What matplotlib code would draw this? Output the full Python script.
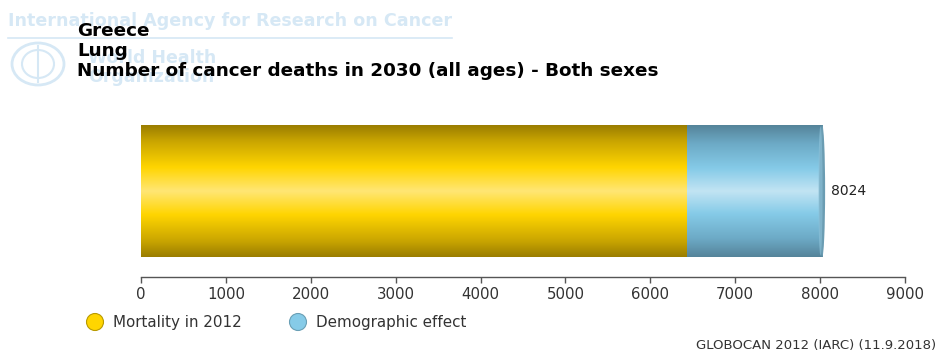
import numpy as np
import matplotlib.pyplot as plt
from matplotlib.colors import LinearSegmentedColormap
from matplotlib.patches import Ellipse

plt.rcParams['font.family'] = ['DejaVu Sans']

# Data
categories = ["Greece"]
series_names = ["Mortality in 2012", "Demographic effect"]
mortality_2012 = [6430]
demographic_effect = [1594]
total_label = [8024]
xticks = [0, 1000, 2000, 3000, 4000, 5000, 6000, 7000, 8000, 9000]

W, H = 950, 354
fig = plt.figure(figsize=(W / 100, H / 100), dpi=100)

def fx(px):
    return px / W

def fy(py):
    return 1 - py / H

# Faint agency watermark in the header
wm = '#d6e8f5'
fig.text(fx(8), fy(21), "International Agency for Research on Cancer", color=wm,
         fontsize=12.6, fontweight='bold', va='center', ha='left')
fig.add_artist(plt.Line2D([fx(8), fx(452)], [fy(38), fy(38)], color=wm, lw=1.2))
fig.text(fx(88), fy(58), "World Health", color=wm, fontsize=12.5, fontweight='bold',
         va='center', ha='left')
fig.text(fx(88), fy(77), "Organization", color=wm, fontsize=12.5, fontweight='bold',
         va='center', ha='left')
fig.add_artist(Ellipse((fx(38), fy(64)), 52 / W, 42 / H, transform=fig.transFigure,
                       fill=False, ec=wm, lw=2))
fig.add_artist(Ellipse((fx(38), fy(64)), 32 / W, 28 / H, transform=fig.transFigure,
                       fill=False, ec=wm, lw=1.5))
fig.add_artist(plt.Line2D([fx(38), fx(38)], [fy(46), fy(82)], color=wm, lw=1.5))

# Titles
for txt, py in [("Greece", 31), ("Lung", 51),
                ("Number of cancer deaths in 2030 (all ages) - Both sexes", 71)]:
    fig.text(fx(77), fy(py), txt, fontsize=13.2, fontweight='bold', color='black',
             va='center', ha='left')

# Main axes
ax = fig.add_axes([fx(141), fy(277), fx(905) - fx(141), (277 - 110) / H])
ax.set_xlim(0, 9000)
ax.set_ylim(0, 1)
bar_y = (277 - 191) / 167
bar_h = 132 / 167

yellow_cmap = LinearSegmentedColormap.from_list("yel", [
    (0.0, '#9a7d00'), (0.12, '#c9a500'), (0.32, '#ffd500'),
    (0.5, '#ffe675'), (0.68, '#ffd500'), (0.88, '#c9a500'), (1.0, '#9a7d00')])
blue_cmap = LinearSegmentedColormap.from_list("blu", [
    (0.0, '#55849a'), (0.14, '#6daac6'), (0.33, '#86cbe8'),
    (0.5, '#c2e4f3'), (0.67, '#86cbe8'), (0.86, '#6daac6'), (1.0, '#55849a')])

grad = np.linspace(0, 1, 256).reshape(-1, 1)

left = 0
for vals, cmap in [(mortality_2012, yellow_cmap), (demographic_effect, blue_cmap)]:
    bars = ax.barh([bar_y], vals, left=[left], height=bar_h, color='none',
                   edgecolor='none')
    for b in bars:
        x0, y0 = b.get_x(), b.get_y()
        x1, y1 = x0 + b.get_width(), y0 + b.get_height()
        im = ax.imshow(grad, cmap=cmap, aspect='auto', extent=[x0, x1, y0, y1],
                       origin='upper', interpolation='bicubic', zorder=2)
        im.set_clip_path(b)
    left += vals[0]

# Rounded end cap of the stacked bar
end_x = mortality_2012[0] + demographic_effect[0]
cap = Ellipse((end_x, bar_y), 70, bar_h, facecolor='#6b9db3', edgecolor='none',
              zorder=3)
ax.add_patch(cap)
cap2 = Ellipse((end_x - 20, bar_y), 50, bar_h * 0.98, facecolor='#8fc3da',
               edgecolor='none', zorder=3, alpha=0.6)
ax.add_patch(cap2)
ax.set_ylim(0, 1)
ax.set_xlim(0, 9000)

ax.text(end_x + 100, bar_y, f"{total_label[0]}", fontsize=10, color='#222222',
        va='center', ha='left')

# Axis styling
for s in ['top', 'right', 'left']:
    ax.spines[s].set_visible(False)
ax.spines['bottom'].set_color('#555555')
ax.spines['bottom'].set_linewidth(1)
ax.set_yticks([])
ax.set_xticks(xticks)
ax.set_xticklabels([str(t) for t in xticks])
ax.tick_params(axis='x', direction='out', length=4, width=1, color='#555555',
               labelsize=10.8, labelcolor='#333333', pad=3)

# Legend
leg_y = 322
for px, name, fc, ec in [(95, series_names[0], '#ffd500', '#b89a00'),
                         (298, series_names[1], '#86cbe8', '#6a9fb5')]:
    fig.add_artist(Ellipse((fx(px), fy(leg_y)), 17 / W, 17 / H,
                           transform=fig.transFigure, facecolor=fc, edgecolor=ec,
                           lw=0.8))
    fig.text(fx(px + 18), fy(leg_y), name, fontsize=10.9, color='#333333',
             va='center', ha='left')

fig.text(fx(936), fy(346), "GLOBOCAN 2012 (IARC) (11.9.2018)", fontsize=9.5,
         color='#333333', va='center', ha='right')

fig.savefig("out.png", dpi=100)
